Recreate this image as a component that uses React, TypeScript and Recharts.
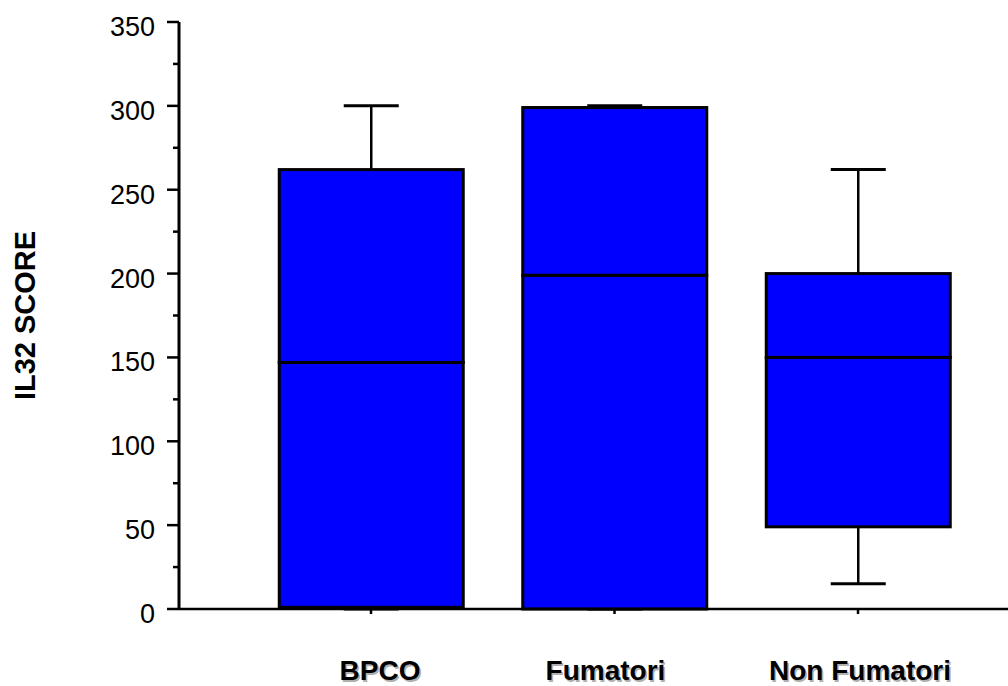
import React from 'react';
import { BarChart, Bar, XAxis, YAxis } from 'recharts';

const categories = ['BPCO', 'Fumatori', 'Non Fumatori'];
const minValues = [0, 0, 15];
const q1Values = [1, 0, 49];
const medianValues = [147, 199, 150];
const q3Values = [262, 299, 200];
const maxValues = [300, 300, 262];
const yTicks = [0, 25, 50, 75, 100, 125, 150, 175, 200, 225, 250, 275, 300, 325, 350];

// stacked segments so every part of a box lands on the library's scale
const data = categories.map((name, i) => ({
    pos: i + 1,
    name,
    base: minValues[i],
    lowWhisker: q1Values[i] - minValues[i],
    lowBox: medianValues[i] - q1Values[i],
    highBox: q3Values[i] - medianValues[i],
    highWhisker: maxValues[i] - q3Values[i],
}));

const FONT = '"Liberation Sans", Arial, sans-serif';
const BLUE = '#0000ff';
const CAP = 55;
// the original labels are not quite centred on their ticks
const LABEL_NUDGE = [9, -9, 2];

const Empty = () => <g />;

const LowWhisker = (props: any) => {
    const { x, y, width, height } = props;
    const cx = x + width / 2;
    return (
        <g>
            <line x1={cx} x2={cx} y1={y} y2={y + height} stroke="#000" strokeWidth={2.5} />
            <line x1={cx - CAP / 2} x2={cx + CAP / 2} y1={y + height} y2={y + height} stroke="#000" strokeWidth={3} />
        </g>
    );
};

const HighWhisker = (props: any) => {
    const { x, y, width, height } = props;
    const cx = x + width / 2;
    return (
        <g>
            <line x1={cx} x2={cx} y1={y} y2={y + height} stroke="#000" strokeWidth={2.5} />
            <line x1={cx - CAP / 2} x2={cx + CAP / 2} y1={y} y2={y} stroke="#000" strokeWidth={3} />
        </g>
    );
};

const BoxPart = (props: any) => {
    const { x, y, width, height } = props;
    return <rect x={x} y={y} width={width} height={height} fill={BLUE} stroke="#000" strokeWidth={3} />;
};

const YTick = (props: any) => {
    const { x, y, payload } = props;
    const major = payload.value % 50 === 0;
    return (
        <g>
            <line x1={x - (major ? 12 : 6)} x2={x} y1={y} y2={y} stroke="#000" strokeWidth={2.5} />
            {major && (
                <text x={x - 24} y={y + 14} textAnchor="end" fontSize={27} fontFamily={FONT} fill="#000">
                    {payload.value}
                </text>
            )}
        </g>
    );
};

const XTick = (props: any) => {
    const { x, y, payload } = props;
    const i = payload.value - 1;
    const label = categories[i];
    const lx = x + (LABEL_NUDGE[i] || 0);
    return (
        <g fontFamily={FONT} fontWeight="bold" fontSize={28} textAnchor="middle">
            <text x={lx + 1.5} y={y + 67.5} fill="#b0b0b0">{label}</text>
            <text x={lx} y={y + 66} fill="#000">{label}</text>
        </g>
    );
};

const YLabel = (props: any) => {
    const { viewBox } = props;
    const cy = viewBox.y + viewBox.height / 2;
    return (
        <text
            transform={`translate(35, ${cy}) rotate(-90)`}
            textAnchor="middle"
            fontFamily={FONT}
            fontWeight="bold"
            fontSize={29}
            fill="#000"
        >
            IL32 SCORE
        </text>
    );
};

export default function App() {
    return (
        <div style={{ position: 'absolute', left: 0, top: 0, width: 1008, height: 686, background: '#fff' }}>
            <BarChart
                width={1008}
                height={686}
                data={data}
                margin={{ top: 22, right: 0, bottom: 0, left: 0 }}
                barSize={184}
            >
                <XAxis
                    dataKey="pos"
                    type="number"
                    domain={[0.2115, 3.616]}
                    ticks={[1, 2, 3]}
                    allowDataOverflow
                    height={77}
                    axisLine={{ stroke: '#000', strokeWidth: 2.5 }}
                    tickLine={{ stroke: '#000', strokeWidth: 2.5 }}
                    tickSize={5}
                    tickMargin={0}
                    tick={<XTick />}
                />
                <YAxis
                    type="number"
                    domain={[0, 350]}
                    ticks={yTicks}
                    interval={0}
                    width={179}
                    axisLine={{ stroke: '#000', strokeWidth: 3 }}
                    tickLine={false}
                    tickSize={0}
                    tickMargin={0}
                    tick={<YTick />}
                    label={{ content: <YLabel /> }}
                />
                <Bar dataKey="base" stackId="box" shape={<Empty />} isAnimationActive={false} />
                <Bar dataKey="lowWhisker" stackId="box" shape={<LowWhisker />} isAnimationActive={false} />
                <Bar dataKey="lowBox" stackId="box" shape={<BoxPart />} isAnimationActive={false} />
                <Bar dataKey="highBox" stackId="box" shape={<BoxPart />} isAnimationActive={false} />
                <Bar dataKey="highWhisker" stackId="box" shape={<HighWhisker />} isAnimationActive={false} />
            </BarChart>
        </div>
    );
}
